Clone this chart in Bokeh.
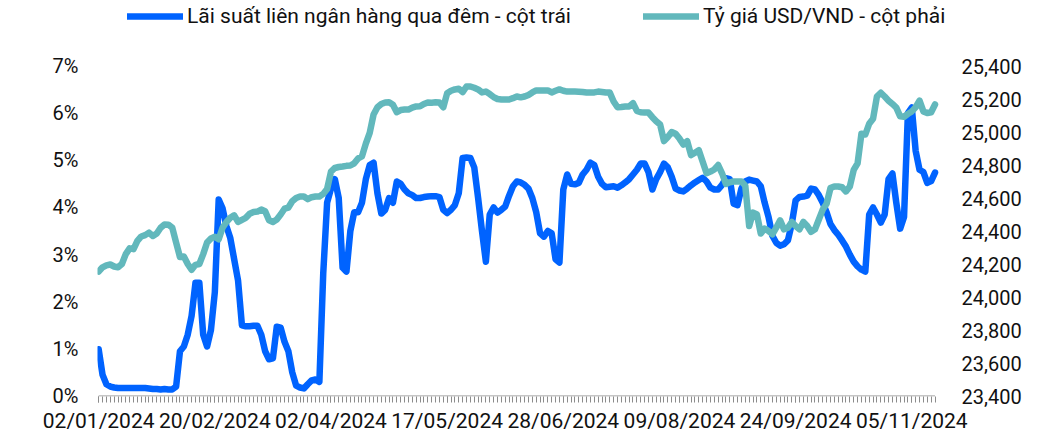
from bokeh.plotting import figure
from bokeh.models import (Range1d, LinearAxis, FixedTicker, Legend, LegendItem,
                          ColumnDataSource)
from bokeh.embed import file_html
from bokeh.resources import INLINE

# ---------------- data ----------------
x_labels = ["02/01/2024", "20/02/2024", "02/04/2024", "17/05/2024",
            "28/06/2024", "09/08/2024", "24/09/2024", "05/11/2024"]
x_label_step = 30

interbank_rate = [
    0.99, 0.45, 0.25, 0.2, 0.18, 0.17, 0.17, 0.17, 0.17, 0.17,
    0.17, 0.17, 0.17, 0.16, 0.15, 0.15, 0.14, 0.15, 0.14, 0.14,
    0.2, 0.95, 1.05, 1.3, 1.7, 2.4, 2.4, 1.3, 1.05, 1.4,
    2.2, 4.17, 3.98, 3.6, 3.35, 2.9, 2.45, 1.5, 1.48, 1.48,
    1.49, 1.49, 1.3, 0.95, 0.78, 0.8, 1.47, 1.45, 1.15, 0.95,
    0.5, 0.22, 0.18, 0.16, 0.25, 0.33, 0.35, 0.3, 2.6, 4.1,
    4.4, 4.6, 4.2, 2.72, 2.64, 3.5, 3.9, 3.9, 4.1, 4.6,
    4.9, 4.95, 4.3, 3.87, 3.95, 4.2, 4.1, 4.55, 4.5, 4.38,
    4.3, 4.26, 4.2, 4.2, 4.22, 4.23, 4.24, 4.24, 4.22, 3.95,
    3.88, 3.95, 4.05, 4.3, 5.05, 5.06, 5.05, 4.85, 4.2, 3.5,
    2.85, 3.85, 4.0, 3.89, 3.95, 4.02, 4.25, 4.45, 4.55, 4.53,
    4.48, 4.4, 4.2, 3.9, 3.45, 3.38, 3.5, 3.45, 2.9, 2.83,
    4.38, 4.7, 4.5, 4.49, 4.52, 4.7, 4.8, 4.95, 4.9, 4.65,
    4.5, 4.43, 4.44, 4.45, 4.42, 4.47, 4.53, 4.6, 4.7, 4.8,
    4.93, 4.93, 4.75, 4.38, 4.6, 4.75, 4.93, 4.85, 4.65, 4.4,
    4.36, 4.34, 4.4, 4.47, 4.53, 4.58, 4.63, 4.55, 4.42, 4.38,
    4.38, 4.48, 4.62, 4.6, 4.08, 4.05, 4.4, 4.55, 4.59, 4.57,
    4.55, 4.45, 4.1, 3.8, 3.4, 3.25, 3.19, 3.22, 3.3, 3.65,
    4.15, 4.22, 4.23, 4.25, 4.4, 4.38, 4.26, 4.1, 3.9, 3.65,
    3.52, 3.42, 3.3, 3.17, 3.0, 2.85, 2.75, 2.68, 2.64, 3.85,
    4.0, 3.85, 3.68, 3.85, 4.6, 4.72, 4.1, 3.55, 3.8, 6.0,
    6.12, 5.2, 4.8, 4.75, 4.52, 4.56, 4.74,
]

usd_vnd = [
    24155, 24180, 24192, 24197, 24185, 24180, 24200, 24260, 24295, 24290,
    24340, 24367, 24375, 24390, 24370, 24385, 24420, 24440, 24438, 24421,
    24330, 24242, 24245, 24200, 24165, 24195, 24200, 24260, 24330, 24355,
    24365, 24350, 24420, 24455, 24480, 24495, 24455, 24468, 24480, 24505,
    24515, 24518, 24530, 24520, 24465, 24455, 24470, 24500, 24535, 24542,
    24580, 24600, 24609, 24609, 24593, 24605, 24609, 24609, 24625, 24655,
    24760, 24782, 24788, 24791, 24795, 24797, 24810, 24840, 24852, 24930,
    24995, 25106, 25150, 25170, 25179, 25180, 25165, 25120, 25133, 25136,
    25136, 25148, 25155, 25156, 25170, 25179, 25178, 25180, 25179, 25150,
    25235, 25250, 25258, 25262, 25242, 25276, 25276, 25268, 25258, 25240,
    25245, 25230, 25212, 25200, 25197, 25197, 25197, 25205, 25215, 25210,
    25215, 25225, 25240, 25252, 25252, 25252, 25252, 25240, 25250, 25258,
    25250, 25245, 25245, 25245, 25244, 25242, 25239, 25239, 25240, 25245,
    25242, 25239, 25239, 25185, 25150, 25152, 25155, 25155, 25175, 25128,
    25120, 25118, 25118, 25090, 25065, 25045, 24945, 24970, 25000, 24990,
    24960, 24924, 24945, 24860, 24875, 24890, 24820, 24750, 24760, 24773,
    24800, 24750, 24685, 24695, 24700, 24700, 24700, 24675, 24430, 24512,
    24500, 24385, 24415, 24400, 24380, 24420, 24465, 24410, 24420, 24455,
    24430, 24410, 24455, 24430, 24395, 24410, 24470, 24530, 24565, 24660,
    24670, 24670, 24665, 24640, 24670, 24770, 24810, 24990, 24985, 25050,
    25080, 25215, 25238, 25215, 25190, 25170, 25148, 25095, 25092, 25110,
    25125, 25150, 25190, 25125, 25115, 25120, 25167,
]

left_ticks = [0, 1, 2, 3, 4, 5, 6, 7]
left_labels = ["0%", "1%", "2%", "3%", "4%", "5%", "6%", "7%"]
right_ticks = [23400, 23600, 23800, 24000, 24200, 24400, 24600, 24800, 25000, 25200, 25400]
right_labels = ["23,400", "23,600", "23,800", "24,000", "24,200", "24,400",
                "24,600", "24,800", "25,000", "25,200", "25,400"]

series_names = ["Lãi suất liên ngân hàng qua đêm - cột trái",
                "Tỷ giá USD/VND - cột phải"]

# ---------------- chart ----------------
n = len(interbank_rate)
idx = list(range(n))
src = ColumnDataSource(dict(x=idx, rate=interbank_rate, fx=usd_vnd))

FONT = "Roboto"
TXT = "#111111"
BLUE = "#0063FF"
TEAL = "#62B8BC"
AXIS_GRAY = "#8c8c8c"

W, H = 1048, 437
BORDER_L, BORDER_R, BORDER_T, BORDER_B = 97, 90, 0, 41
frame_w = W - BORDER_L - BORDER_R
frame_h = H - BORDER_T - BORDER_B
px_per_pt = 3.872          # horizontal spacing of the daily points
px_per_pct = 47.14         # vertical size of 1 percentage point
x_start = -0.3
x_end = x_start + frame_w / px_per_pt
y_start = -0.5 / px_per_pct
y_end = y_start + frame_h / px_per_pct

right_bottom = right_ticks[0]
right_per_left = (right_ticks[-1] - right_ticks[0]) / (left_ticks[-1] - left_ticks[0])

p = figure(width=W, height=H, output_backend="svg", toolbar_location=None,
           x_range=Range1d(x_start, x_end),
           y_range=Range1d(y_start, y_end),
           min_border_left=BORDER_L, min_border_right=BORDER_R,
           min_border_top=BORDER_T, min_border_bottom=BORDER_B)
p.extra_y_ranges = {"fx": Range1d(right_bottom + y_start * right_per_left,
                                  right_bottom + y_end * right_per_left)}

p.outline_line_color = None
p.xgrid.visible = False
p.ygrid.visible = False
p.background_fill_color = "white"
p.border_fill_color = "white"

# baseline of the category axis (spans the data points only)
p.segment(x0=[idx[0]], y0=[0], x1=[idx[-1]], y1=[0], line_color=AXIS_GRAY, line_width=1)

r_rate = p.line("x", "rate", source=src, line_color=BLUE, line_width=6.5,
                line_join="round", line_cap="round")
r_fx = p.line("x", "fx", source=src, y_range_name="fx", line_color=TEAL,
              line_width=6.5, line_join="round", line_cap="round")

# x axis
xa = p.xaxis[0]
major_x = [i * x_label_step for i in range(len(x_labels))]
xa.ticker = FixedTicker(ticks=major_x, minor_ticks=idx)
xa.major_label_overrides = {t: lab for t, lab in zip(major_x, x_labels)}
xa.axis_line_color = None
xa.major_tick_line_color = AXIS_GRAY
xa.minor_tick_line_color = AXIS_GRAY
xa.major_tick_in = 0
xa.major_tick_out = 6
xa.minor_tick_in = 0
xa.minor_tick_out = 6
xa.major_label_standoff = 6
xa.major_label_text_font = FONT
xa.major_label_text_font_size = "21px"
xa.major_label_text_color = TXT

# left axis
ya = p.yaxis[0]
ya.ticker = FixedTicker(ticks=left_ticks, minor_ticks=[])
ya.major_label_overrides = {t: lab for t, lab in zip(left_ticks, left_labels)}
ya.axis_line_color = None
ya.major_tick_line_color = None
ya.minor_tick_line_color = None
ya.major_tick_in = 0
ya.major_tick_out = 0
ya.major_label_standoff = 19
ya.major_label_text_font = FONT
ya.major_label_text_font_size = "20px"
ya.major_label_text_color = TXT

# right axis
ra = LinearAxis(y_range_name="fx")
ra.ticker = FixedTicker(ticks=right_ticks, minor_ticks=[])
ra.major_label_overrides = {t: lab for t, lab in zip(right_ticks, right_labels)}
ra.axis_line_color = None
ra.major_tick_line_color = None
ra.minor_tick_line_color = None
ra.major_tick_in = 0
ra.major_tick_out = 0
ra.major_label_standoff = 3
ra.major_label_text_font = FONT
ra.major_label_text_font_size = "20px"
ra.major_label_text_color = TXT
p.add_layout(ra, "right")

# legend
legend = Legend(items=[LegendItem(label=series_names[0], renderers=[r_rate]),
                       LegendItem(label=series_names[1], renderers=[r_fx])],
                orientation="horizontal", location=(30, 368),
                glyph_width=56, glyph_height=20, label_height=20,
                label_standoff=4, spacing=72, padding=0, margin=0,
                border_line_color=None, background_fill_alpha=0,
                label_text_font=FONT, label_text_font_size="21px",
                label_text_color=TXT)
p.add_layout(legend)

open("out.html", "w").write(file_html(p, INLINE))
